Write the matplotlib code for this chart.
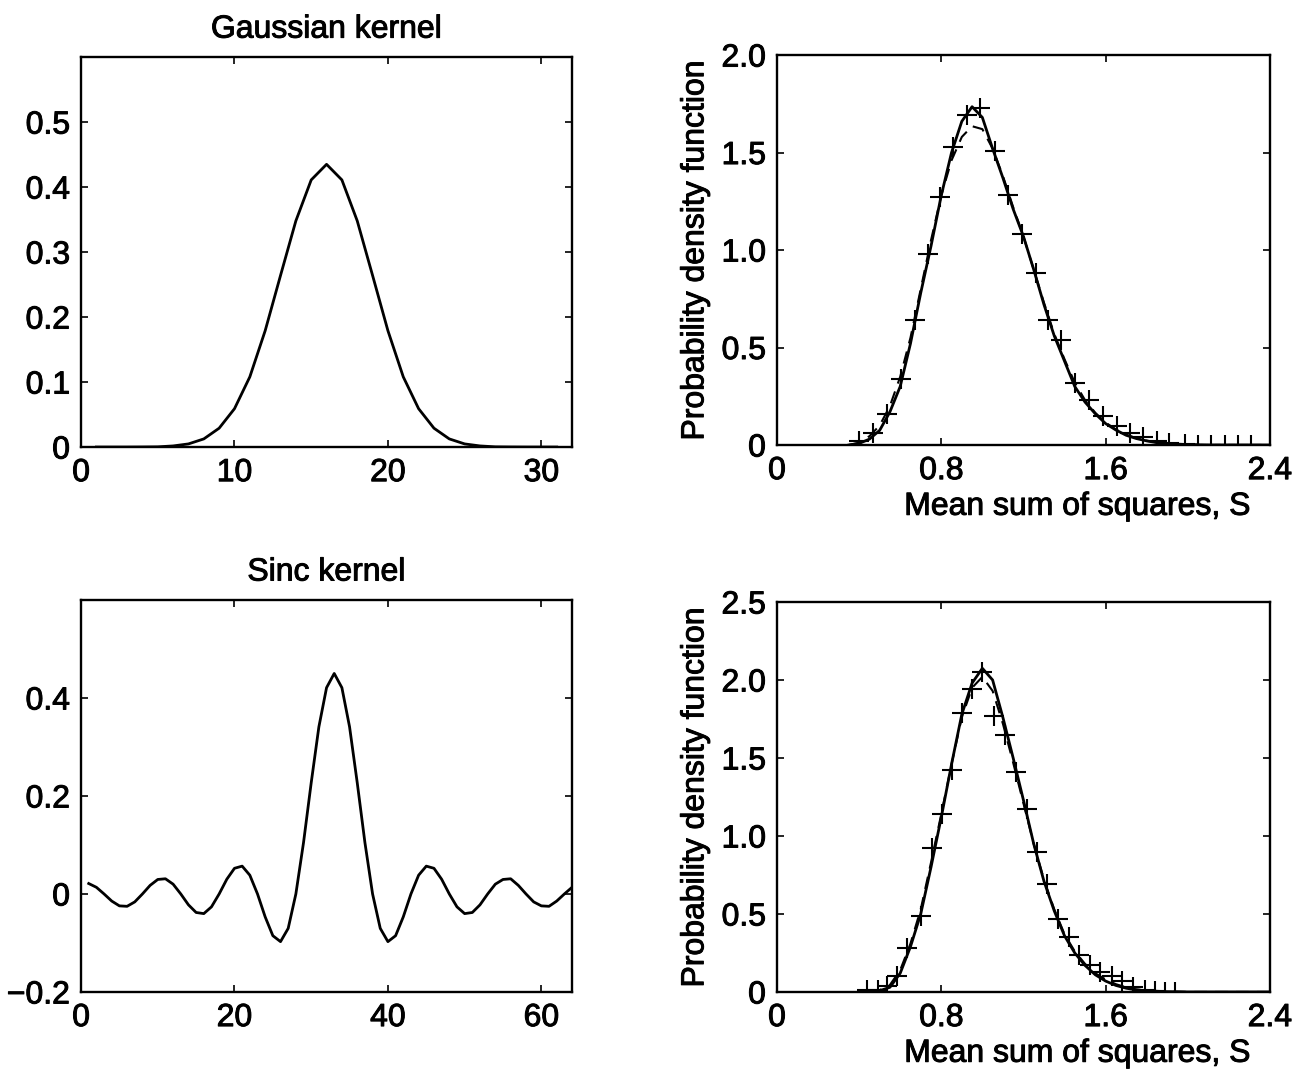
import matplotlib
matplotlib.use("Agg")
import matplotlib.pyplot as plt
import matplotlib.patheffects as pe

plt.rcParams["font.family"] = ["Liberation Sans", "DejaVu Sans"]
plt.rcParams["font.size"] = 23

# ---------------------- data ----------------------
# Gaussian kernel, samples 1..31
gauss_x = list(range(1, 32))
gauss_y = [0.0, 0.0, 0.0, 0.0001, 0.0003, 0.0017, 0.0048, 0.0125, 0.029, 0.059,
           0.108, 0.179, 0.264, 0.348, 0.411, 0.435, 0.411, 0.348, 0.264, 0.179,
           0.108, 0.059, 0.029, 0.0125, 0.0048, 0.0017, 0.0003, 0.0001, 0.0, 0.0, 0.0]

# Sinc kernel, samples 1..64 (centre at 33)
sinc_x = list(range(1, 65))
sinc_y = [0.0213, 0.0136, 0.0, -0.0145, -0.0243, -0.0252, -0.0162, 0.0, 0.0175, 0.0296,
          0.0310, 0.0200, 0.0, -0.0222, -0.0378, -0.0401, -0.0263, 0.0, 0.0301, 0.0524,
          0.0568, 0.0383, 0.0, -0.0468, -0.0852, -0.0973, -0.0702, 0.0, 0.105, 0.227,
          0.341, 0.421, 0.45, 0.421, 0.341, 0.227, 0.105, 0.0, -0.0702, -0.0973,
          -0.0852, -0.0468, 0.0, 0.0383, 0.0568, 0.0524, 0.0301, 0.0, -0.0263, -0.0401,
          -0.0378, -0.0222, 0.0, 0.0200, 0.0296, 0.0310, 0.0175, 0.0, -0.0162, -0.0243,
          -0.0252, -0.0145, 0.0, 0.0136]

# pdf of S, Gaussian kernel case
pdf1_x = [0.35, 0.40, 0.45, 0.50, 0.55, 0.60, 0.65, 0.70, 0.75, 0.80, 0.85, 0.90, 0.95,
          1.00, 1.05, 1.10, 1.15, 1.20, 1.25, 1.30, 1.35, 1.40, 1.45, 1.50, 1.55, 1.60,
          1.65, 1.70, 1.75, 1.80, 1.85, 1.90, 2.00, 2.10, 2.40]
pdf1_solid = [0.0, 0.008, 0.03, 0.075, 0.17, 0.30, 0.52, 0.78, 1.02, 1.28, 1.50, 1.66, 1.735,
              1.68, 1.52, 1.37, 1.21, 1.07, 0.90, 0.72, 0.56, 0.43, 0.30, 0.22, 0.16, 0.11,
              0.077, 0.05, 0.033, 0.021, 0.012, 0.007, 0.002, 0.0, 0.0]
pdf1_dash = [0.0, 0.012, 0.045, 0.10, 0.20, 0.35, 0.55, 0.80, 1.05, 1.28, 1.46, 1.58, 1.635,
             1.62, 1.52, 1.38, 1.22, 1.07, 0.90, 0.73, 0.57, 0.44, 0.32, 0.23, 0.165, 0.115,
             0.08, 0.053, 0.035, 0.022, 0.013, 0.008, 0.003, 0.0, 0.0]
hist1_x = [0.40, 0.47, 0.535, 0.605, 0.67, 0.735, 0.795, 0.855, 0.925, 0.99, 1.06, 1.125,
           1.195, 1.26, 1.32, 1.385, 1.45, 1.52, 1.585, 1.655, 1.72, 1.78, 1.85, 1.91,
           1.985, 2.05, 2.115, 2.18, 2.245, 2.31]
hist1_y = [0.02, 0.06, 0.16, 0.34, 0.64, 0.98, 1.27, 1.53, 1.69, 1.73, 1.51, 1.28, 1.08,
           0.88, 0.64, 0.54, 0.32, 0.23, 0.15, 0.10, 0.06, 0.04, 0.02, 0.01, 0.005, 0.0,
           0.0, 0.0, 0.0, 0.0]

# pdf of S, sinc kernel case
pdf2_x = [0.45, 0.50, 0.55, 0.60, 0.65, 0.70, 0.75, 0.80, 0.85, 0.90, 0.95, 1.00, 1.05,
          1.10, 1.15, 1.20, 1.25, 1.30, 1.35, 1.40, 1.45, 1.50, 1.55, 1.60, 1.65, 1.70,
          1.75, 1.80, 1.90, 2.00, 2.40]
pdf2_solid = [0.0, 0.008, 0.03, 0.12, 0.29, 0.50, 0.80, 1.12, 1.46, 1.78, 1.98, 2.075, 2.00,
              1.76, 1.50, 1.23, 0.95, 0.71, 0.52, 0.36, 0.25, 0.17, 0.11, 0.07, 0.042, 0.024,
              0.013, 0.007, 0.002, 0.0, 0.0]
pdf2_dash = [0.0, 0.012, 0.045, 0.14, 0.31, 0.53, 0.83, 1.14, 1.46, 1.76, 1.95, 2.02, 1.93,
             1.72, 1.47, 1.21, 0.95, 0.72, 0.53, 0.37, 0.26, 0.18, 0.12, 0.08, 0.05, 0.03,
             0.016, 0.009, 0.003, 0.0, 0.0]
hist2_x = [0.44, 0.49, 0.535, 0.585, 0.635, 0.70, 0.755, 0.805, 0.85, 0.90, 0.95, 1.00,
           1.055, 1.11, 1.165, 1.215, 1.265, 1.315, 1.37, 1.42, 1.47, 1.525, 1.575, 1.63,
           1.68, 1.735, 1.79, 1.84, 1.89, 1.94]
hist2_y = [0.01, 0.01, 0.04, 0.10, 0.28, 0.49, 0.92, 1.14, 1.42, 1.79, 1.94, 2.05, 1.77,
           1.65, 1.41, 1.17, 0.90, 0.69, 0.47, 0.355, 0.24, 0.17, 0.13, 0.10, 0.07, 0.035,
           0.013, 0.005, 0.002, 0.0]

s_ticks = [0, 0.8, 1.6, 2.4]
s_labels = ["0", "0.8", "1.6", "2.4"]

# ---------------------- figure ----------------------
fig = plt.figure(figsize=(13.01, 10.71), dpi=100)
ax1 = fig.add_axes([0.0623, 0.5826, 0.3774, 0.3641])
ax2 = fig.add_axes([0.5972, 0.5845, 0.3789, 0.3641])
ax3 = fig.add_axes([0.0623, 0.0738, 0.3774, 0.3660])
ax4 = fig.add_axes([0.5972, 0.0738, 0.3789, 0.3641])

# scanned print look: slightly heavier glyphs
heavy = [pe.withStroke(linewidth=0.7, foreground="black")]

for ax in (ax1, ax2, ax3, ax4):
    for sp in ax.spines.values():
        sp.set_linewidth(1.7)
    ax.tick_params(direction="in", top=True, right=True, length=5, width=1.2,
                   labelsize=23, pad=8)

lw = 2.0
ax1.plot(gauss_x, gauss_y, color="black", lw=lw)
ax1.set_xlim(0, 32)
ax1.set_ylim(0, 0.6)
ax1.set_xticks([0, 10, 20, 30])
ax1.set_yticks([0, 0.1, 0.2, 0.3, 0.4, 0.5])
ax1.set_yticklabels(["0", "0.1", "0.2", "0.3", "0.4", "0.5"])
ax1.set_title("Gaussian kernel", fontsize=23, pad=14)

ax3.plot(sinc_x, sinc_y, color="black", lw=lw)
ax3.set_xlim(0, 64)
ax3.set_ylim(-0.2, 0.6)
ax3.set_xticks([0, 20, 40, 60])
ax3.set_yticks([-0.2, 0, 0.2, 0.4])
ax3.set_yticklabels(["\u22120.2", "0", "0.2", "0.4"])
ax3.set_title("Sinc kernel", fontsize=23, pad=14)

for ax, px, ps, pd, hx, hy, ymax, yt in (
        (ax2, pdf1_x, pdf1_solid, pdf1_dash, hist1_x, hist1_y, 2.0,
         [0, 0.5, 1.0, 1.5, 2.0]),
        (ax4, pdf2_x, pdf2_solid, pdf2_dash, hist2_x, hist2_y, 2.5,
         [0, 0.5, 1.0, 1.5, 2.0, 2.5])):
    ax.plot(px, ps, color="black", lw=lw)
    ax.plot(px, pd, color="black", lw=1.5, dashes=(6, 4))
    ax.plot(hx, hy, linestyle="none", marker="+", color="black",
            markersize=15, markeredgewidth=1.5)
    ax.set_xlim(0, 2.4)
    ax.set_ylim(0, ymax)
    ax.set_xticks(s_ticks)
    ax.set_xticklabels(s_labels)
    ax.set_yticks(yt)
    ax.set_yticklabels(["0"] + ["%.1f" % v for v in yt[1:]])
    ax.set_ylabel("Probability density function", fontsize=23, labelpad=8)
    ax.set_xlabel("Mean sum of squares, S", fontsize=23)
    ax.xaxis.set_label_coords(0.61, -0.12)

for ax in (ax1, ax2, ax3, ax4):
    texts = ax.get_xticklabels() + ax.get_yticklabels()
    texts += [ax.title, ax.xaxis.label, ax.yaxis.label]
    for t in texts:
        t.set_path_effects(heavy)

fig.savefig("out.png", dpi=100)
